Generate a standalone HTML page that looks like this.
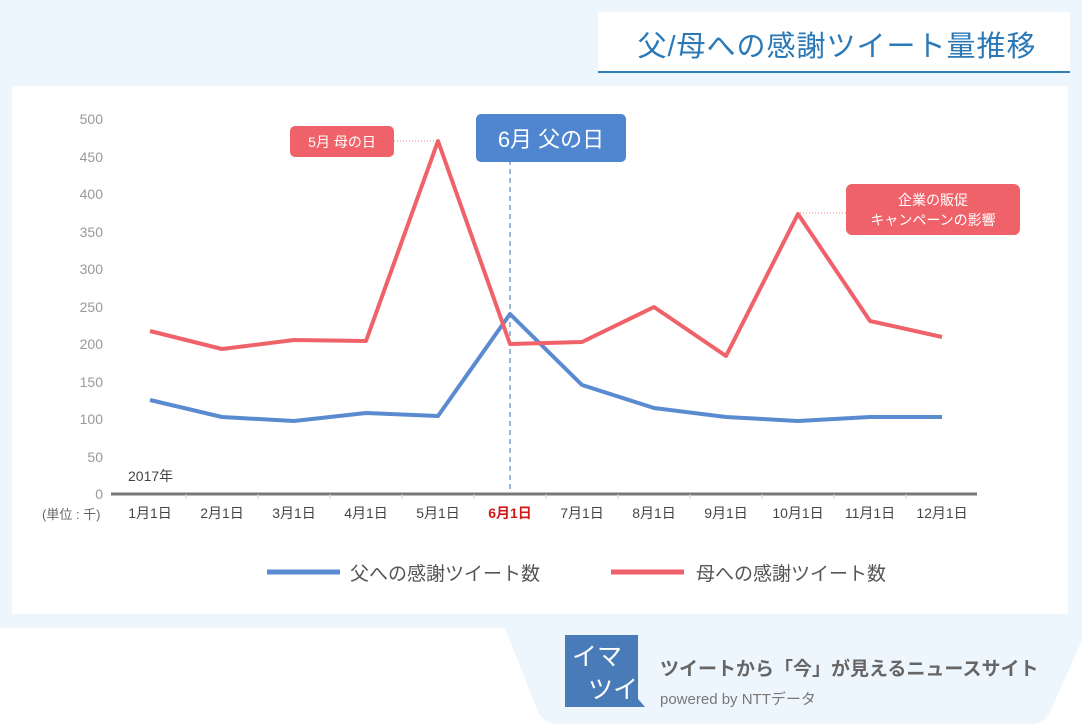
<!DOCTYPE html>
<html><head><meta charset="utf-8"><style>
body{margin:0;width:1082px;height:726px;overflow:hidden;background:#eef6fd;font-family:"Liberation Sans","Noto Sans CJK JP",sans-serif;}
</style></head><body>
<svg width="1082" height="726" xmlns="http://www.w3.org/2000/svg" style="position:absolute;left:0;top:0" font-family="Liberation Sans, Noto Sans CJK JP, sans-serif">
<rect x="0" y="628" width="1082" height="98" fill="#ffffff"/>
<path d="M505 628 L1082 628 L1082 640 L1050 712 Q1044 724 1030 724 L560 724 Q544 724 538 712 Z" fill="#eef6fd"/>
<rect x="598" y="12" width="472" height="60" fill="#fff"/>
<rect x="598" y="71" width="472" height="2" fill="#2f7fb8"/>
<text x="837" y="56" text-anchor="middle" font-size="29" letter-spacing="1" fill="#2a78b6">父/母への感謝ツイート量推移</text>
<rect x="12" y="86" width="1056" height="528" fill="#fff"/>
<g font-size="14" fill="#999" text-anchor="end">
<text x="103" y="499">0</text><text x="103" y="462">50</text><text x="103" y="424">100</text><text x="103" y="387">150</text><text x="103" y="349">200</text><text x="103" y="312">250</text><text x="103" y="274">300</text><text x="103" y="237">350</text><text x="103" y="199">400</text><text x="103" y="162">450</text><text x="103" y="124">500</text>
</g>
<line x1="111" y1="494" x2="977" y2="494" stroke="#777" stroke-width="3"/>
<g stroke="#ccc" stroke-width="1">
<line x1="186" y1="494" x2="186" y2="499"/><line x1="258" y1="494" x2="258" y2="499"/><line x1="330" y1="494" x2="330" y2="499"/><line x1="402" y1="494" x2="402" y2="499"/><line x1="474" y1="494" x2="474" y2="499"/><line x1="546" y1="494" x2="546" y2="499"/><line x1="618" y1="494" x2="618" y2="499"/><line x1="690" y1="494" x2="690" y2="499"/><line x1="762" y1="494" x2="762" y2="499"/><line x1="834" y1="494" x2="834" y2="499"/><line x1="906" y1="494" x2="906" y2="499"/>
</g>
<text x="128" y="481" font-size="14" fill="#444">2017年</text>
<text x="42" y="519" font-size="13" fill="#666">(単位 : 千)</text>
<g font-size="14" fill="#444" text-anchor="middle">
<text x="150" y="518">1月1日</text><text x="222" y="518">2月1日</text><text x="294" y="518">3月1日</text><text x="366" y="518">4月1日</text><text x="438" y="518">5月1日</text>
<text x="510" y="518" fill="#d01818" font-weight="bold">6月1日</text>
<text x="582" y="518">7月1日</text><text x="654" y="518">8月1日</text><text x="726" y="518">9月1日</text><text x="798" y="518">10月1日</text><text x="870" y="518">11月1日</text><text x="942" y="518">12月1日</text>
</g>
<line x1="510" y1="160" x2="510" y2="492" stroke="#3a6fb0" stroke-width="1" stroke-dasharray="5,4"/>
<polyline fill="none" stroke="#5a8bd0" stroke-width="4" stroke-linejoin="round" points="150,400 222,417 294,421 366,413 438,416 510,314 582,385 654,408 726,417 798,421 870,417 942,417"/>
<polyline fill="none" stroke="#f0626a" stroke-width="4" stroke-linejoin="round" points="150,331 222,349 294,340 366,341 438,141 510,344 582,342 654,307 726,356 798,214 870,321 942,337"/>
<line x1="394" y1="141" x2="436" y2="141" stroke="#e88" stroke-width="1" stroke-dasharray="1,2"/>
<line x1="800" y1="213" x2="846" y2="213" stroke="#e88" stroke-width="1" stroke-dasharray="1,2"/>
<rect x="290" y="126" width="104" height="31" rx="5" fill="#f0626a"/>
<text x="342" y="147" text-anchor="middle" font-size="14" fill="#fff">5月 母の日</text>
<rect x="476" y="114" width="150" height="48" rx="5" fill="#4f86cf"/>
<text x="551" y="147" text-anchor="middle" font-size="22" fill="#fff">6月 父の日</text>
<rect x="846" y="184" width="174" height="51" rx="6" fill="#f0626a"/>
<text x="933" y="205" text-anchor="middle" font-size="14" fill="#fff">企業の販促</text>
<text x="933" y="225" text-anchor="middle" font-size="14" fill="#fff">キャンペーンの影響</text>
<line x1="267" y1="572" x2="340" y2="572" stroke="#5a8bd0" stroke-width="5"/>
<text x="350" y="580" font-size="19" fill="#555">父への感謝ツイート数</text>
<line x1="611" y1="572" x2="684" y2="572" stroke="#f0626a" stroke-width="5"/>
<text x="696" y="580" font-size="19" fill="#555">母への感謝ツイート数</text>
<rect x="565" y="635" width="73" height="72" fill="#4a7bb9"/>
<path d="M638 699 L645 707 L638 707Z" fill="#4a7bb9"/>
<text x="572" y="665" font-size="25" fill="#fff">イマ</text>
<text x="588" y="698" font-size="25" fill="#fff">ツイ</text>
<text x="660" y="675" font-size="19" font-weight="bold" fill="#666">ツイートから「今」が見えるニュースサイト</text>
<text x="660" y="704" font-size="15" fill="#777">powered by  NTTデータ</text>
</svg>
</body></html>
